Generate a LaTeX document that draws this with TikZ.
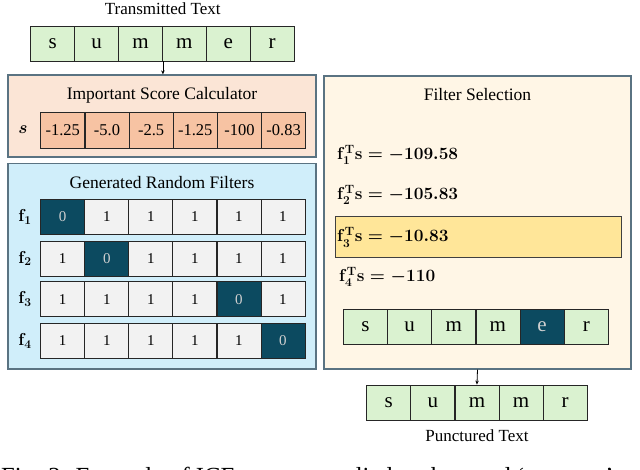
\documentclass[tikz,border=0pt]{standalone}
\usepackage{fontspec}
\setmainfont{Liberation Serif}
\usepackage{amsmath,bm}
\usetikzlibrary{arrows.meta}
\definecolor{cellgreen}{HTML}{DAF2D0}
\definecolor{salmonbg}{HTML}{FBE5D6}
\definecolor{salmoncell}{HTML}{F7C3A3}
\definecolor{bluebg}{HTML}{D0EEFA}
\definecolor{darkteal}{HTML}{0C4A60}
\definecolor{lightcell}{HTML}{F2F2F2}
\definecolor{creambg}{HTML}{FFF6E6}
\definecolor{goldhl}{HTML}{FFE699}
\definecolor{panelborder}{HTML}{5A7382}
\definecolor{zerotext}{HTML}{D0D0D0}
\begin{document}
\begin{tikzpicture}[x=1pt,y=-1pt,
  cellbase/.style={draw=black!85, line width=0.8pt, minimum width=44pt, minimum height=35pt, inner sep=0pt},
  gcell/.style={cellbase, fill=cellgreen, font=\fontsize{21}{24}\selectfont},
  gdark/.style={cellbase, fill=darkteal, text=zerotext, font=\fontsize{21}{24}\selectfont},
  scell/.style={cellbase, fill=salmoncell, minimum height=36pt, font=\fontsize{16.5}{19}\selectfont},
  lcell/.style={cellbase, fill=lightcell, font=\fontsize{15}{18}\selectfont},
  dcell/.style={cellbase, fill=darkteal, text=zerotext, font=\fontsize{15}{18}\selectfont},
  panel/.style={draw=panelborder, line width=1.2pt, inner sep=0pt},
  title/.style={font=\fontsize{17.5}{20}\selectfont, inner sep=0pt},
  label/.style={font=\fontsize{17}{20}\selectfont, inner sep=0pt},
  mline/.style={anchor=west, font=\fontsize{17}{20}\selectfont\boldmath, inner sep=0pt},
  flabel/.style={font=\fontsize{17}{20}\selectfont\boldmath, inner sep=0pt},
  arr/.style={-{Stealth[length=4pt,width=3.5pt]}, line width=0.8pt, black}
]
\useasboundingbox (0,0) rectangle (640,469);

% panels
\node[panel, fill=salmonbg, minimum width=308pt, minimum height=82pt] (isc) at (162,116) {};
\node[panel, fill=bluebg, minimum width=308pt, minimum height=205.7pt] (grf) at (162,266.2) {};
\node[panel, fill=creambg, minimum width=307pt, minimum height=293pt] (fs) at (477.5,222.5) {};
\node[draw=black!75, line width=0.8pt, fill=goldhl, minimum width=286pt, minimum height=41pt, inner sep=0pt] (hl) at (478,237.2) {};

% titles
\node[label] (tt) at (162.7,9) {Transmitted Text};
\node[title] (isct) at (162,95) {Important Score Calculator};
\node[title] (grft) at (162,182.7) {Generated Random Filters};
\node[title] (fst) at (477.5,95) {Filter Selection};
\node[label] (pt) at (477,436) {Punctured Text};

% transmitted text
\foreach \l [count=\i] in {s,u,m,m,e,r}
  \node[gcell] (t\i) at ({52.7+43.9*(\i-1)},43.5) {\l};

% scores
\node[flabel, font=\fontsize{19}{22}\selectfont\boldmath] (slab) at (23,130) {$\bm{s}$};
\foreach \v [count=\i] in {-1.25,-5.0,-2.5,-1.25,-100,-0.83}
  \node[scell] (sc\i) at ({62.8+44.17*(\i-1)},130) {\v};

% filters
\foreach \r/\z/\yy in {1/1/216.7,2/2/258.5,3/5/299.2,4/6/340.8}{
  \node[flabel] (fl\r) at (25,\yy) {$\mathbf{f}_{\r}$};
  \foreach \c in {1,...,6}{
    \ifnum\c=\z\relax
      \node[dcell] (f\r c\c) at ({62.7+44.05*(\c-1)},\yy) {0};
    \else
      \node[lcell] (f\r c\c) at ({62.7+44.05*(\c-1)},\yy) {1};
    \fi
  }
}

% filter selection lines
\node[mline] (m1) at (337,155) {$\mathbf{f}_{\mathbf{1}}^{\mathbf{T}}\mathbf{s}=-109.58$};
\node[mline] (m2) at (337,195) {$\mathbf{f}_{\mathbf{2}}^{\mathbf{T}}\mathbf{s}=-105.83$};
\node[mline] (m3) at (337,237.2) {$\mathbf{f}_{\mathbf{3}}^{\mathbf{T}}\mathbf{s}=-10.83$};
\node[mline] (m4) at (339,277) {$\mathbf{f}_{\mathbf{4}}^{\mathbf{T}}\mathbf{s}=-110$};

% masked row
\foreach \l [count=\i] in {s,u,m,m,e,r}{
  \ifnum\i=5\relax
    \node[gdark] (o\i) at ({365.4+44.17*(\i-1)},326.5) {\l};
  \else
    \node[gcell] (o\i) at ({365.4+44.17*(\i-1)},326.5) {\l};
  \fi
}

% punctured text
\foreach \l [count=\i] in {s,u,m,m,r}
  \node[gcell] (p\i) at ({388.75+44.1*(\i-1)},402.5) {\l};

% arrows
\draw[arr] (t3.south east) -- (t3.south east |- isc.north);
\draw[arr] (fs.south) -- (p3.north);

% caption (cut off by the page edge, as in the reference)
\node[anchor=base west, inner sep=0pt, font=\fontsize{24.6}{30}\selectfont] (cap) at (1,484) {Fig. 2: Example of ICF process applied to the word ‘summer’};
\end{tikzpicture}
\end{document}
